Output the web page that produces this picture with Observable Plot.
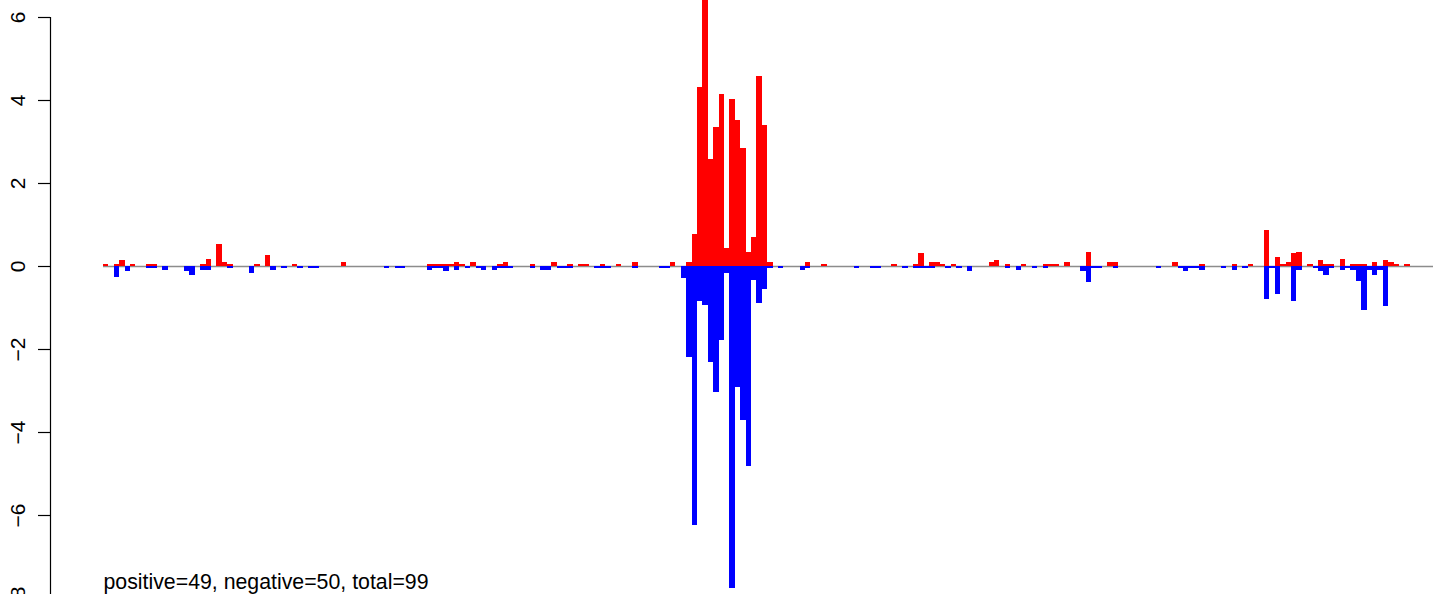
<!DOCTYPE html>
<html><head><meta charset="utf-8">
<script src="https://cdn.jsdelivr.net/npm/d3@7"></script>
<script src="https://cdn.jsdelivr.net/npm/@observablehq/plot@0.6"></script>
<style>
html,body{margin:0;padding:0;background:#fff;}
#chart{width:1433px;height:594px;overflow:hidden;}
#chart svg{overflow:hidden;display:block;}
</style></head><body><div id="chart"></div>
<script>
const binCount = 242;
const yTicks = [-8, -6, -4, -2, 0, 2, 4, 6];
const caption = "positive=49, negative=50, total=99";

const posBins = [0,2,3,5,8,9,18,19,21,22,23,28,30,35,44,60,61,62,63,64,65,66,68,73,74,79,83,86,88,89,92,95,98,105,108,
  109,110,111,112,113,114,115,116,117,118,119,120,121,122,123,130,133,146,150,151,153,154,155,157,164,165,167,170,
  174,175,176,178,182,186,187,198,203,209,212,215,217,218,219,220,221,223,225,226,227,229,231,232,233,235,237,238,239,241];
const posVals = [0.05,0.05,0.14,0.05,0.05,0.05,0.05,0.18,0.52,0.09,0.05,0.05,0.26,0.05,0.09,0.05,0.05,0.05,0.05,0.05,0.10,0.05,0.10,0.05,0.10,0.05,0.10,0.05,0.05,0.05,0.05,0.05,0.10,0.10,0.10,
  0.76,4.31,6.80,2.57,3.34,4.14,0.43,4.02,3.51,2.84,0.33,0.69,4.57,3.39,0.10,0.09,0.05,0.05,0.05,0.31,0.09,0.09,0.05,0.05,0.09,0.14,0.05,0.05,
  0.05,0.05,0.05,0.09,0.33,0.09,0.09,0.09,0.05,0.05,0.05,0.86,0.21,0.05,0.09,0.31,0.33,0.05,0.14,0.05,0.05,0.18,0.05,0.05,0.05,0.09,0.14,0.09,0.05,0.05];

const negBins = [2,4,8,9,11,15,16,18,19,23,27,31,33,36,38,39,52,54,55,60,61,62,63,65,67,69,70,72,73,74,75,79,81,82,84,85,86,91,92,93,98,103,104,
  107,108,109,110,111,112,113,114,115,116,117,118,119,120,121,122,123,125,129,130,139,142,143,148,150,151,152,153,156,158,160,167,169,172,174,
  181,182,183,184,187,195,199,200,201,202,203,207,209,211,215,216,217,220,221,224,225,226,227,229,230,231,232,233,234,235,236,237];
const negVals = [-0.27,-0.13,-0.06,-0.06,-0.10,-0.13,-0.22,-0.10,-0.10,-0.06,-0.18,-0.10,-0.06,-0.06,-0.06,-0.06,-0.05,-0.05,-0.05,-0.10,-0.05,-0.05,-0.13,-0.10,-0.05,-0.05,-0.10,-0.10,-0.05,-0.05,-0.05,-0.05,-0.10,-0.10,-0.05,-0.05,-0.05,-0.05,-0.05,-0.05,-0.05,-0.05,-0.05,
  -0.30,-2.20,-6.25,-0.85,-0.95,-2.32,-3.04,-1.79,-0.18,-7.77,-2.92,-3.72,-4.83,-0.34,-0.90,-0.56,-0.05,-0.05,-0.10,-0.05,-0.05,-0.05,-0.05,-0.05,-0.05,-0.05,-0.05,-0.05,-0.05,-0.05,-0.13,-0.05,-0.10,-0.05,-0.05,
  -0.13,-0.39,-0.05,-0.05,-0.05,-0.05,-0.05,-0.13,-0.05,-0.05,-0.10,-0.05,-0.10,-0.05,-0.80,-0.05,-0.68,-0.85,-0.10,-0.05,-0.13,-0.22,-0.05,-0.10,-0.05,-0.10,-0.35,-1.07,-0.10,-0.22,-0.10,-0.97];

const pos = posBins.map((b, k) => ({bin: b, value: posVals[k]}));
const neg = negBins.map((b, k) => ({bin: b, value: negVals[k]}));

const chart = Plot.plot({
  width: 1433, height: 594,
  marginLeft: 50, marginRight: 0, marginTop: 17, marginBottom: 0,
  style: {fontFamily: "'Liberation Sans', Arial, Helvetica, sans-serif", fontSize: "21px", background: "#fff", color: "#000"},
  x: {domain: [0, binCount], range: [103, 103 + binCount * 5.4], axis: null},
  y: {domain: [-8, 6], range: [598, 17], axis: null},
  marks: [
    Plot.ruleY([0], {x1: 0, x2: binCount + 10, stroke: "#8c8c8c", strokeWidth: 1.5}),
    Plot.rect(pos, {x1: "bin", x2: d => d.bin + 1, y1: () => 0, y2: "value", fill: "#ff0000", shapeRendering: "crispEdges"}),
    Plot.rect(neg, {x1: "bin", x2: d => d.bin + 1, y1: () => 0, y2: "value", fill: "#0000ff", shapeRendering: "crispEdges"}),
    Plot.frame({anchor: "left", stroke: "#000", strokeWidth: 1.2}),
    Plot.axisY(yTicks, {anchor: "left", tickRotate: -90, tickSize: 12, tickPadding: 14, tickFormat: d3.format("d"), fontSize: 21, label: null, strokeWidth: 1.2}),
    Plot.text([caption], {x: () => 0, text: d => d, frameAnchor: "bottom", dy: -6, textAnchor: "start", lineAnchor: "bottom", fontSize: 21.3, fill: "#000"})
  ]
});
document.getElementById("chart").appendChild(chart);
</script>
</body></html>
